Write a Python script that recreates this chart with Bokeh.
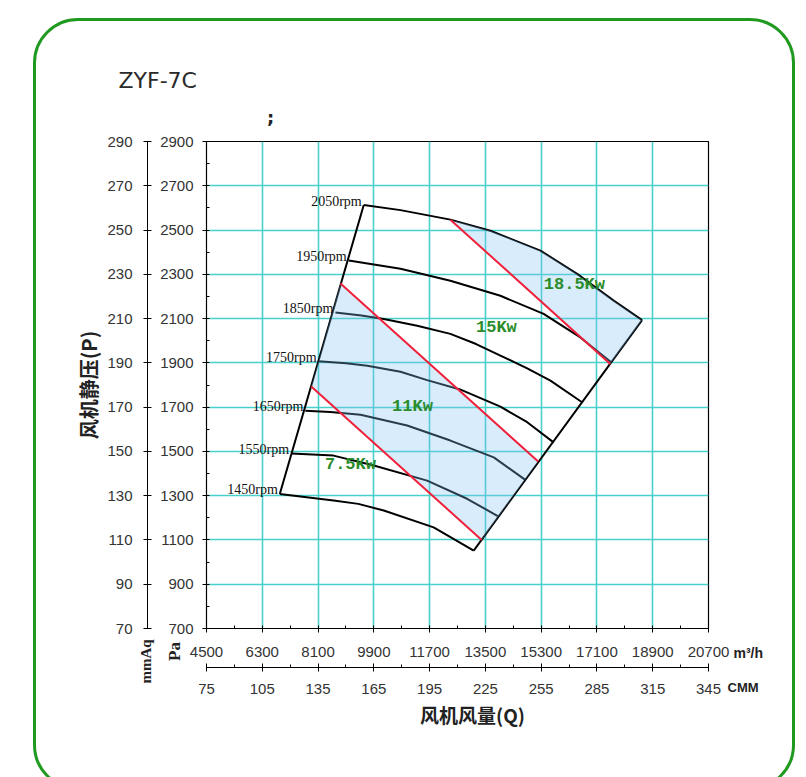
from bokeh.plotting import figure
from bokeh.models import Range1d, LinearAxis, FixedTicker, Label, InlineStyleSheet
from bokeh.core.properties import value
from bokeh.embed import file_html
from bokeh.resources import INLINE
import math

# ---------------- data ----------------
title_text = "ZYF-7C"
x_ticks = [4500, 6300, 8100, 9900, 11700, 13500, 15300, 17100, 18900, 20700]      # m3/h
x_minor = [5400, 7200, 9000, 10800, 12600, 14400, 16200, 18000, 19800]
cmm_ticks = [75, 105, 135, 165, 195, 225, 255, 285, 315, 345]                     # CMM
cmm_minor = [90, 120, 150, 180, 210, 240, 270, 300, 330]
y_ticks = [700, 900, 1100, 1300, 1500, 1700, 1900, 2100, 2300, 2500, 2700, 2900]  # Pa
y_minor = [800, 1000, 1200, 1400, 1600, 1800, 2000, 2200, 2400, 2600, 2800]
mmaq_ticks = [70, 90, 110, 130, 150, 170, 190, 210, 230, 250, 270, 290]           # mmAq

rpm_labels = ["1450rpm", "1550rpm", "1650rpm", "1750rpm", "1850rpm", "1950rpm", "2050rpm"]

q_1450 = [6865, 8600, 9400, 10220, 11830, 13123]
p_1450 = [1308, 1278, 1263, 1233, 1157, 1052]
q_1550 = [7230, 8600, 9900, 11620, 12910, 13900]
p_1550 = [1491, 1481, 1436, 1368, 1286, 1208]
q_1650 = [7690, 8500, 9470, 10975, 12370, 13770, 14800]
p_1650 = [1684, 1678, 1666, 1617, 1549, 1473, 1370]
q_1750 = [8120, 9000, 9690, 10760, 11620, 12680, 13985, 14850, 15700]
p_1750 = [1907, 1898, 1887, 1860, 1822, 1780, 1702, 1632, 1541]
q_1850 = [8660, 9500, 10220, 11300, 12370, 13200, 13985, 14850, 15600, 16620]
p_1850 = [2128, 2114, 2098, 2068, 2031, 1985, 1933, 1875, 1820, 1722]
q_1950 = [9091, 10760, 12370, 13985, 15380, 16565, 17560]
p_1950 = [2362, 2325, 2271, 2203, 2121, 2015, 1903]
q_2050 = [9575, 10760, 12370, 13660, 15275, 16460, 17640, 18556]
p_2050 = [2613, 2590, 2547, 2497, 2407, 2302, 2181, 2093]

# power limit lines (start, end)
q_red_75 = [7880, 13380]
p_red_75 = [1793, 1100]
q_red_15 = [8823, 15204]
p_red_15 = [2259, 1454]
q_red_185 = [12370, 17530]
p_red_185 = [2547, 1895]

power_labels = ["7.5Kw", "11Kw", "15Kw", "18.5Kw"]
power_q = [9145, 11146, 13855, 16372]
power_p = [1440, 1702, 2059, 2253]

# ---------------- figure ----------------
W, H = 800, 777
FL, FR, FT, FB = 206, 708, 141, 628   # frame edges on canvas

frame_css = InlineStyleSheet(css="""
:host { position: relative; overflow: hidden; }
:host::after {
  content: ''; position: absolute; left: 33px; top: 18px; width: 762px; height: 772px;
  box-sizing: border-box; border: 3px solid #1f9a1f; border-radius: 45px;
  pointer-events: none; z-index: 100;
}
""")

p = figure(width=W, height=H, x_range=Range1d(4500, 20700), y_range=Range1d(700, 2900),
           output_backend="svg", toolbar_location=None,
           min_border_left=FL, min_border_right=W - FR, min_border_top=FT, min_border_bottom=H - FB)
p.stylesheets = [frame_css]
p.extra_y_ranges = {"mmaq": Range1d(70, 290)}
p.extra_x_ranges = {"cmm": Range1d(75, 345)}
p.background_fill_color = "white"
p.border_fill_color = "white"
p.outline_line_color = "black"
p.outline_line_width = 1.2

TICK_FONT = "Liberation Sans"
TICK_SIZE = "15px"
TICK_COLOR = "#333333"


def style_axis(ax):
    ax.axis_line_color = "black"
    ax.major_tick_line_color = "black"
    ax.minor_tick_line_color = "black"
    ax.major_label_text_font = TICK_FONT
    ax.major_label_text_font_size = TICK_SIZE
    ax.major_label_text_color = TICK_COLOR
    ax.axis_label_text_font_style = "bold"


# inner y axis (Pa)
ay = p.yaxis[0]
ay.ticker = FixedTicker(ticks=y_ticks, minor_ticks=y_minor)
style_axis(ay)
ay.major_tick_in = 3
ay.major_tick_out = 4
ay.minor_tick_in = 3
ay.minor_tick_out = 0
ay.major_label_standoff = 9
ay.axis_label = " "
ay.axis_label_text_font_size = "7px"
ay.axis_label_standoff = 0

# outer y axis (mmAq)
ay2 = LinearAxis(y_range_name="mmaq", ticker=FixedTicker(ticks=mmaq_ticks, minor_ticks=[]))
style_axis(ay2)
ay2.major_tick_in = 4
ay2.major_tick_out = 4
ay2.major_label_standoff = 11
ay2.axis_label = "风机静压(P)"
ay2.axis_label_text_font = "Noto Sans CJK SC"
ay2.axis_label_text_font_size = "20px"
ay2.axis_label_text_color = "#222222"
ay2.axis_label_standoff = 1
p.add_layout(ay2, "left")

# inner x axis (m3/h)
ax = p.xaxis[0]
ax.ticker = FixedTicker(ticks=x_ticks, minor_ticks=x_minor)
style_axis(ax)
ax.major_tick_in = 3
ax.major_tick_out = 4
ax.minor_tick_in = 3
ax.minor_tick_out = 0
ax.major_label_standoff = 14
ax.axis_label = " "
ax.axis_label_text_font_size = "4px"
ax.axis_label_standoff = 0

# outer x axis (CMM)
ax2 = LinearAxis(x_range_name="cmm", ticker=FixedTicker(ticks=cmm_ticks, minor_ticks=cmm_minor))
style_axis(ax2)
ax2.major_tick_in = 4
ax2.major_tick_out = 4
ax2.minor_tick_in = 3
ax2.minor_tick_out = 0
ax2.major_label_standoff = 12
p.add_layout(ax2, "below")

# grid
GRID = "#48d1cc"
p.xgrid.ticker = FixedTicker(ticks=x_ticks)
p.ygrid.ticker = FixedTicker(ticks=y_ticks)
for g in (p.xgrid, p.ygrid):
    g.grid_line_color = GRID
    g.grid_line_width = 1.6

# rpm curves
curves = [(q_1450, p_1450), (q_1550, p_1550), (q_1650, p_1650), (q_1750, p_1750),
          (q_1850, p_1850), (q_1950, p_1950), (q_2050, p_2050)]
for cq, cp in curves:
    p.line(cq, cp, line_color="black", line_width=2)

# envelope boundaries
p.line([q_1450[0], q_2050[0]], [p_1450[0], p_2050[0]], line_color="black", line_width=2)
p.line([q_1450[-1], q_2050[-1]], [p_1450[-1], p_2050[-1]], line_color="black", line_width=2)

# shaded power bands
FILL = (129, 194, 242)
band_a_q = [q_red_185[0]] + [v for v in q_2050 if v > q_red_185[0]] + [q_red_185[1]]
band_a_p = [p_red_185[0]] + [pp for v, pp in zip(q_2050, p_2050) if v > q_red_185[0]] + [p_red_185[1]]
p.patch(band_a_q, band_a_p, fill_color=FILL, fill_alpha=0.31, line_color=None)
band_b_q = [q_red_75[0], q_red_15[0], q_red_15[1], q_red_75[1]]
band_b_p = [p_red_75[0], p_red_15[0], p_red_15[1], p_red_75[1]]
p.patch(band_b_q, band_b_p, fill_color=FILL, fill_alpha=0.31, line_color=None)

# power limit lines
RED = "#f0203a"
for rq, rp in ((q_red_75, p_red_75), (q_red_15, p_red_15), (q_red_185, p_red_185)):
    p.line(rq, rp, line_color=RED, line_width=2)

# rpm labels
p.text(x=[c[0][0] for c in curves], y=[c[1][0] for c in curves], text=rpm_labels,
       text_align="right", text_baseline="middle", x_offset=-2, y_offset=-4,
       text_font=value("Liberation Serif"), text_font_size="14px", text_color="#111111")

# power labels
p.text(x=power_q, y=power_p, text=power_labels, text_align="center", text_baseline="middle",
       text_font=value("Liberation Mono"), text_font_style="bold", text_font_size="17px",
       text_color="#2a8c2a")


# texts outside the frame: placed in side panels (not clipped), canvas pixel units
def clabel(side, x, y, text, **kw):
    p.add_layout(Label(x=x, y=y, x_units="canvas", y_units="canvas", text=text, **kw), side)


clabel("above", 118, 80, title_text, text_baseline="middle", text_font="DejaVu Sans",
       text_font_size="22px", text_color="#2a2a2a")
clabel("above", 270, 117, ";", text_align="center", text_baseline="middle",
       text_font="DejaVu Sans", text_font_style="bold", text_font_size="18px",
       text_color="#222222")
clabel("above", 174, 651, "Pa", text_align="center", text_baseline="middle", angle=math.pi / 2,
       text_font="Liberation Serif", text_font_style="bold", text_font_size="17px",
       text_color="#222222")
clabel("above", 145, 661, "mmAq", text_align="center", text_baseline="middle", angle=math.pi / 2,
       text_font="Liberation Serif", text_font_style="bold", text_font_size="15px",
       text_color="#222222")
clabel("right", 733, 652, "m³/h", text_baseline="middle", text_font="Liberation Sans",
       text_font_style="bold", text_font_size="14px", text_color="#222222")
clabel("right", 727, 687, "CMM", text_baseline="middle", text_font="Liberation Sans",
       text_font_style="bold", text_font_size="13px", text_color="#222222")
clabel("below", 472, 714, "风机风量(Q)", text_align="center", text_baseline="middle",
       text_font="Noto Sans CJK SC", text_font_style="bold", text_font_size="19px",
       text_color="#222222")

open("out.html", "w").write(file_html(p, INLINE))
